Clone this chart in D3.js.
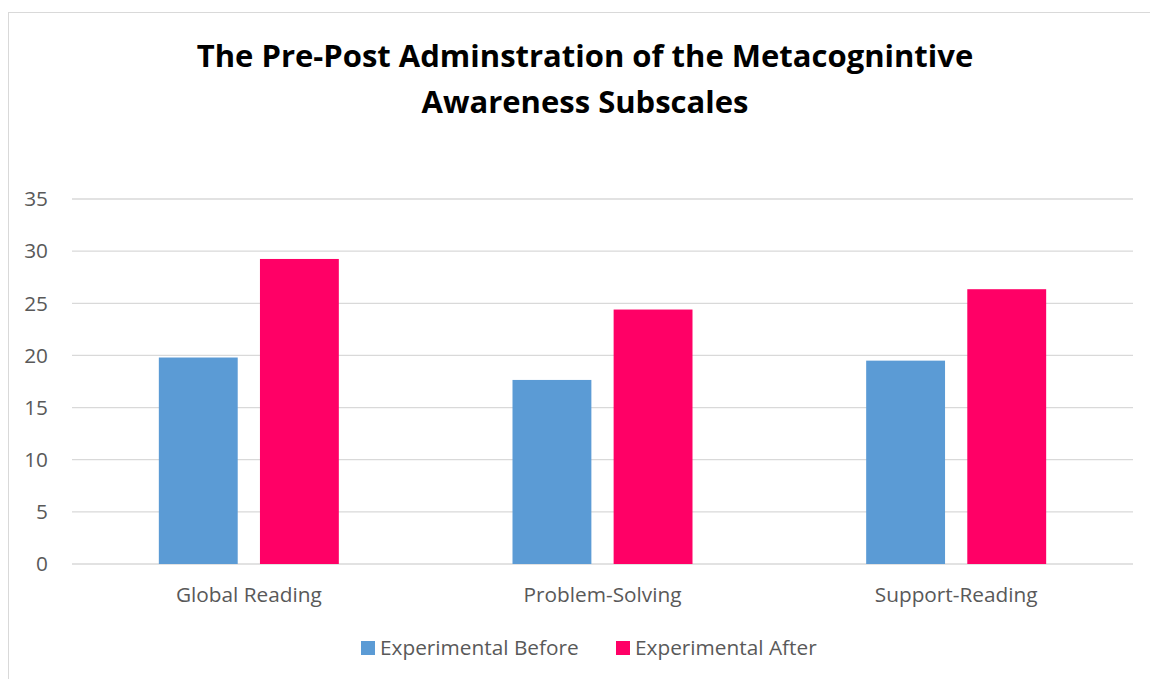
<!DOCTYPE html>
<meta charset="utf-8">
<script src="https://cdn.jsdelivr.net/npm/d3@7"></script>
<style>
  body { margin: 0; background: #fff; }
  svg { display: block; font-family: "Open Sans", sans-serif; }
</style>
<svg></svg>
<script>
// chart data
var categories = ["Global Reading", "Problem-Solving", "Support-Reading"];
var seriesNames = ["Experimental Before", "Experimental After"];
var before = [19.8, 17.65, 19.5];
var after = [29.25, 24.4, 26.35];
var yTicks = [0, 5, 10, 15, 20, 25, 30, 35];
var colors = ["#5B9BD5", "#FF0066"];

var W = 1150, H = 679;
var plotLeft = 72, plotRight = 1133, plotTop = 199, plotBottom = 564;
var labelSize = 20.8;

var svg = d3.select("svg").attr("width", W).attr("height", H);

// outer chart frame
svg.append("rect")
   .attr("x", 8.5).attr("y", 12.5)
   .attr("width", W).attr("height", H)
   .attr("fill", "none").attr("stroke", "#d9d9d9");

var x0 = d3.scaleBand().domain(categories).range([plotLeft, plotRight]);
var x1 = d3.scaleBand().domain(seriesNames)
           .range([x0.bandwidth() / 2 - 90, x0.bandwidth() / 2 + 90])
           .paddingInner(0.22);
var y = d3.scaleLinear().domain([0, 35]).range([plotBottom, plotTop]);

// gridlines
svg.append("g")
   .selectAll("line")
   .data(yTicks)
   .join("line")
   .attr("x1", plotLeft).attr("x2", plotRight)
   .attr("y1", function(d){ return y(d); })
   .attr("y2", function(d){ return y(d); })
   .attr("stroke", "#d9d9d9")
   .attr("stroke-width", 1.3);

// y labels
svg.append("g")
   .selectAll("text")
   .data(yTicks)
   .join("text")
   .attr("x", 48)
   .attr("y", function(d){ return y(d); })
   .attr("dy", "0.35em")
   .attr("text-anchor", "end")
   .attr("font-size", labelSize)
   .attr("fill", "#595959")
   .text(function(d){ return d; });

// bars
var rows = categories.map(function(c, i){
  return [{cat: c, s: seriesNames[0], v: before[i]}, {cat: c, s: seriesNames[1], v: after[i]}];
});

svg.append("g")
   .selectAll("g")
   .data(rows)
   .join("g")
   .attr("transform", function(d){ return "translate(" + x0(d[0].cat) + ",0)"; })
   .selectAll("rect")
   .data(function(d){ return d; })
   .join("rect")
   .attr("x", function(d){ return x1(d.s); })
   .attr("width", x1.bandwidth())
   .attr("y", function(d){ return y(d.v); })
   .attr("height", function(d){ return y(0) - y(d.v); })
   .attr("fill", function(d, i){ return colors[i]; });

// category labels
svg.append("g")
   .selectAll("text")
   .data(categories)
   .join("text")
   .attr("x", function(d){ return x0(d) + x0.bandwidth() / 2; })
   .attr("y", 602)
   .attr("text-anchor", "middle")
   .attr("font-size", labelSize)
   .attr("fill", "#595959")
   .text(function(d){ return d; });

// title
var title = svg.append("text")
   .attr("text-anchor", "middle")
   .attr("font-size", 31)
   .attr("font-weight", "bold")
   .attr("fill", "#000");
title.append("tspan").attr("x", 585).attr("y", 67).text("The Pre-Post Adminstration of the Metacognintive");
title.append("tspan").attr("x", 585).attr("y", 113).text("Awareness Subscales");

// legend
var legendX = [361, 616];
var lg = svg.append("g")
   .selectAll("g")
   .data(seriesNames)
   .join("g")
   .attr("transform", function(d, i){ return "translate(" + legendX[i] + ",641)"; });
lg.append("rect")
  .attr("width", 14).attr("height", 14)
  .attr("fill", function(d, i){ return colors[i]; });
lg.append("text")
  .attr("x", 19).attr("y", 7).attr("dy", "0.35em")
  .attr("font-size", labelSize)
  .attr("fill", "#595959")
  .text(function(d){ return d; });
</script>
